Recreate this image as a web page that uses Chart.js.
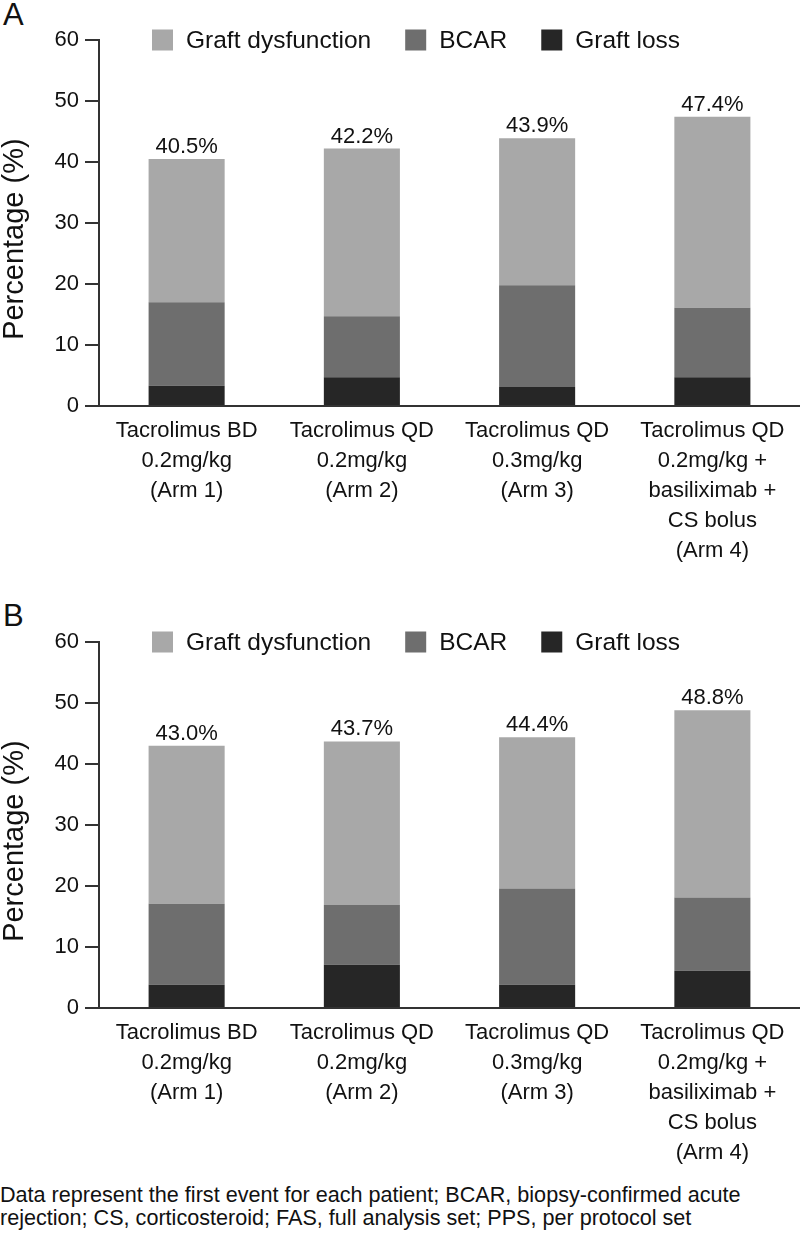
<!DOCTYPE html>
<html>
<head>
<meta charset="utf-8">
<script src="https://cdn.jsdelivr.net/npm/chart.js@4.4.1/dist/chart.umd.min.js"></script>
<style>
  body { margin: 0; width: 800px; height: 1234px; position: relative; background: #fff; overflow: hidden;
         font-family: "Liberation Sans", Arial, sans-serif; color: #111; }
  .panel { position: absolute; left: 0; width: 800px; height: 570px; }
  .letra { position: absolute; left: 3px; font-size: 31px; line-height: 31px; }
  .nota { position: absolute; left: 0; top: 1183px; font-size: 21.6px; line-height: 23px; white-space: nowrap; }
</style>
</head>
<body>
<div class="letra" style="top:-1px">A</div>
<div class="panel" style="top:0"><canvas id="grafica-a"></canvas></div>
<div class="letra" style="top:600px">B</div>
<div class="panel" style="top:602px"><canvas id="grafica-b"></canvas></div>
<div class="nota">Data represent the first event for each patient; BCAR, biopsy-confirmed acute<br>rejection; CS, corticosteroid; FAS, full analysis set; PPS, per protocol set</div>

<script>
// categorias (brazos del estudio)
const brazos = [
  ['Tacrolimus BD', '0.2mg/kg', '(Arm 1)'],
  ['Tacrolimus QD', '0.2mg/kg', '(Arm 2)'],
  ['Tacrolimus QD', '0.3mg/kg', '(Arm 3)'],
  ['Tacrolimus QD', '0.2mg/kg +', 'basiliximab +', 'CS bolus', '(Arm 4)']
];
const series = ['Graft loss', 'BCAR', 'Graft dysfunction'];

// panel A
const perdidaA = [3.3, 4.7, 3.1, 4.7];
const bcarA = [13.7, 10.0, 16.7, 11.4];
const disfuncionA = [23.5, 27.5, 24.1, 31.3];
const totalA = [40.5, 42.2, 43.9, 47.4];

// panel B
const perdidaB = [3.8, 7.1, 3.8, 6.1];
const bcarB = [13.3, 9.8, 15.8, 12.0];
const disfuncionB = [25.9, 26.8, 24.8, 30.7];
const totalB = [43.0, 43.7, 44.4, 48.8];

const ticksY = [0, 10, 20, 30, 40, 50, 60];

(function(){
  const fuente = '"Liberation Sans", Arial, sans-serif';
  const colores = ['#262626', '#6e6e6e', '#a8a8a8'];
  const ejeColor = '#333333';

  // leyenda dibujada a la altura del tick 60
  const leyenda = {
    id: 'leyenda',
    afterDraw(chart){
      const { ctx, chartArea } = chart;
      ctx.save();
      ctx.font = '24.5px ' + fuente;
      ctx.textBaseline = 'middle';
      ctx.textAlign = 'left';
      let x = chartArea.left + 53;
      const y = chartArea.top;
      [2, 1, 0].forEach(i => {
        const ds = chart.data.datasets[i];
        ctx.fillStyle = ds.backgroundColor;
        ctx.fillRect(x, y - 10.5, 21, 21);
        ctx.fillStyle = '#111';
        ctx.fillText(ds.label, x + 34, y + 1);
        x += 34 + ctx.measureText(ds.label).width + 34;
      });
      ctx.restore();
    }
  };

  // porcentaje total sobre cada barra
  const totales = {
    id: 'totales',
    afterDatasetsDraw(chart, args, opts){
      const { ctx } = chart;
      const meta = chart.getDatasetMeta(chart.data.datasets.length - 1);
      ctx.save();
      ctx.font = '22px ' + fuente;
      ctx.fillStyle = '#111';
      ctx.textAlign = 'center';
      ctx.textBaseline = 'alphabetic';
      meta.data.forEach((barra, i) => {
        ctx.fillText(opts.valores[i].toFixed(1) + '%', barra.x, barra.y - 6);
      });
      ctx.restore();
    }
  };

  function crearGrafica(id, perdida, bcar, disfuncion, total){
    const ctx = document.getElementById(id);
    return new Chart(ctx, {
      type: 'bar',
      data: {
        labels: brazos,
        datasets: [perdida, bcar, disfuncion].map((valores, i) => ({
          label: series[i],
          data: valores,
          backgroundColor: colores[i],
          borderWidth: 0,
          barPercentage: 0.434,
          categoryPercentage: 1
        }))
      },
      options: {
        responsive: true,
        maintainAspectRatio: false,
        animation: false,
        layout: { padding: { top: 40, right: 0, bottom: 0, left: 0 } },
        scales: {
          x: {
            stacked: true,
            grid: { display: false, drawTicks: false },
            border: { display: true, color: ejeColor, width: 2 },
            ticks: {
              color: '#111',
              padding: 10,
              maxRotation: 0,
              autoSkip: false,
              font: { family: fuente, size: 22, lineHeight: 30 / 22 }
            },
            afterFit: scale => { scale.height = 570 - 406; }
          },
          y: {
            stacked: true,
            min: 0,
            max: 60,
            afterBuildTicks: scale => { scale.ticks = ticksY.map(v => ({ value: v })); },
            grid: {
              drawOnChartArea: false,
              drawTicks: true,
              tickLength: 14,
              color: ejeColor,
              lineWidth: 2
            },
            border: { display: true, color: ejeColor, width: 2 },
            ticks: {
              color: '#111',
              padding: 6,
              font: { family: fuente, size: 22 }
            },
            title: {
              display: true,
              // espacios finales para bajar un poco el titulo
              text: 'Percentage (%)    ',
              color: '#111',
              padding: 0,
              font: { family: fuente, size: 29, lineHeight: 1 }
            },
            afterFit: scale => { scale.width = 99; }
          }
        },
        plugins: {
          legend: { display: false },
          tooltip: { enabled: false },
          totales: { valores: total }
        }
      },
      plugins: [leyenda, totales]
    });
  }

  crearGrafica('grafica-a', perdidaA, bcarA, disfuncionA, totalA);
  crearGrafica('grafica-b', perdidaB, bcarB, disfuncionB, totalB);
})();
</script>
</body>
</html>
